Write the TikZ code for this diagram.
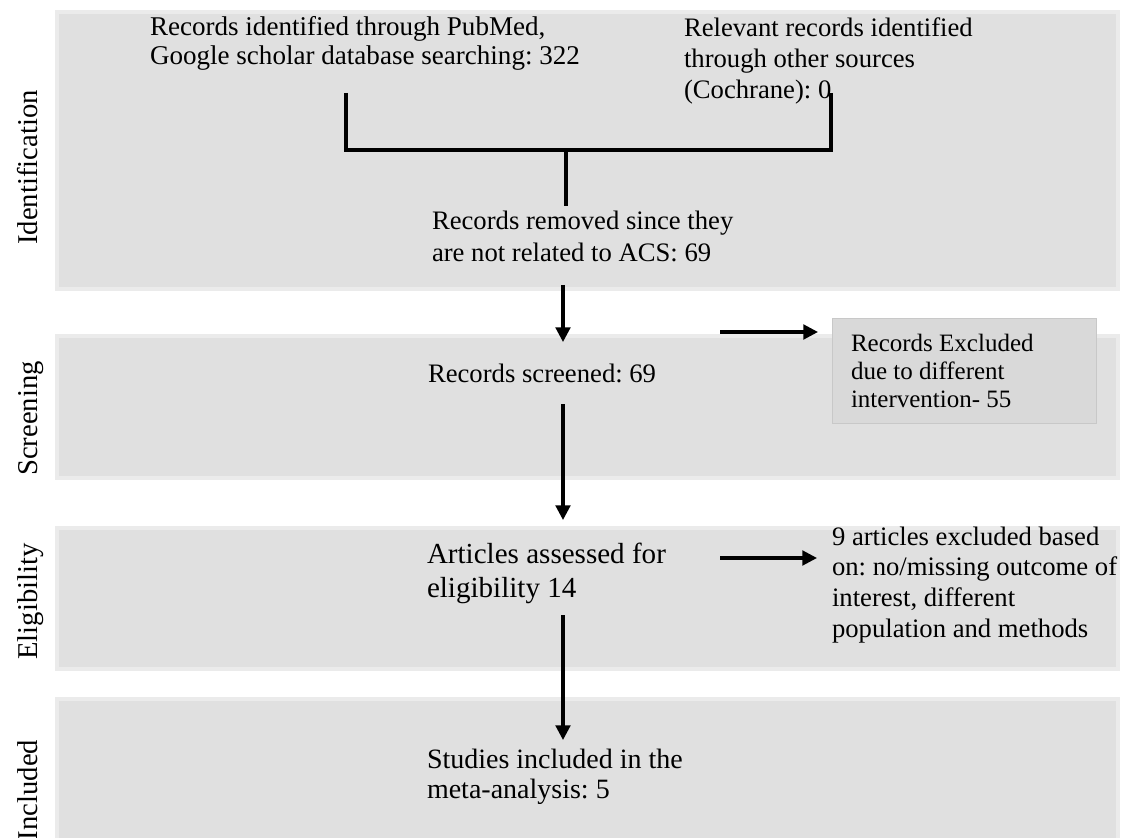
\documentclass[tikz,border=0pt]{standalone}
\usepackage{fontspec}
\setmainfont{Liberation Serif}
\usetikzlibrary{arrows.meta}
\frenchspacing
\definecolor{bandfill}{HTML}{E0E0E0}
\definecolor{bandedge}{HTML}{EBEBEB}
\definecolor{boxfill}{HTML}{D9D9D9}
\definecolor{boxedge}{HTML}{C8C8C8}
\newcommand{\txtlines}[1]{\begin{tabular}[t]{@{}l@{}}#1\end{tabular}}
\tikzset{
  band/.style={fill=bandfill, draw=bandedge, line width=2.5pt},
  txt/.style={anchor=base west, inner sep=0pt, outer sep=0pt},
  phase/.style={rotate=90, anchor=base, inner sep=0pt, font=\fontsize{21.5}{24}\selectfont},
  exbox/.style={fill=boxfill, draw=boxedge, line width=0.8pt, anchor=north west, inner sep=0pt,
                minimum width=198pt, minimum height=78.75pt},
  conn/.style={line width=2.3pt, line join=miter},
  arr/.style={conn, -{Triangle[length=11pt,width=11pt]}},
}
\begin{document}
\begin{tikzpicture}[x=0.75pt,y=-0.75pt]
\useasboundingbox (0,0) rectangle (1122,838);
% bands
\path[band] (57,12) rectangle (1118,289);
\path[band] (57,336) rectangle (1118,478);
\path[band] (57,528) rectangle (1118,669);
\path[band] (57,699) rectangle (1118,850);
% phase labels
\node[phase] (lid) at (37.5,167.5) {Identification};
\node[phase] (lsc) at (37.5,418.5) {Screening};
\node[phase] (lel) at (37.5,601.5) {Eligibility};
\node[phase] (lin) at (37.5,790) {Included};
% texts
\node[txt, font=\fontsize{20.3}{21.75}\selectfont] (src1) at (150,36)
  {\txtlines{Records identified through PubMed,\\Google scholar database searching: 322}};
\node[txt, font=\fontsize{20}{22.9}\selectfont] (src2) at (684,37)
  {\txtlines{Relevant records identified\\through other sources\\(Cochrane): 0}};
\node[txt, font=\fontsize{20}{24}\selectfont] (removed) at (432,230)
  {\txtlines{Records removed since they\\are not related to ACS: 69}};
\node[txt, font=\fontsize{20}{22.5}\selectfont] (screened) at (428,382)
  {Records screened: 69};
\node[exbox] (excl1) at (832,318) {};
\node[txt, font=\fontsize{18.75}{21}\selectfont] (excl1t) at (851,351)
  {\txtlines{Records Excluded\\due to different\\intervention- 55}};
\node[txt, font=\fontsize{21.8}{25.5}\selectfont] (assessed) at (427,563)
  {\txtlines{Articles assessed for\\eligibility 14}};
\node[txt, font=\fontsize{20}{23}\selectfont] (excl2) at (832,545)
  {\txtlines{9 articles excluded based\\on: no/missing outcome of\\interest, different\\population and methods}};
\node[txt, font=\fontsize{21}{22.5}\selectfont] (included) at (427,768)
  {\txtlines{Studies included in the\\meta-analysis: 5}};
% connector points
\coordinate (jl) at (346,93);
\coordinate (jr) at (831,93);
\coordinate (jm) at (566,150);
\coordinate (js) at (566,206);
\coordinate (a1s) at (563,285);
\coordinate (a1e) at (563,342);
\coordinate (a2s) at (563,404);
\coordinate (a2e) at (563,520);
\coordinate (a3s) at (563,615);
\coordinate (a3e) at (563,740);
\coordinate (h1s) at (720,332);
\coordinate (h1e) at (818,332);
\coordinate (h2s) at (720,558);
\coordinate (h2e) at (817,558);
% connectors
\draw[conn] (jl) |- (jm) -| (jr);
\draw[conn] (jm) -- (js);
\draw[arr] (a1s) -- (a1e);
\draw[arr] (a2s) -- (a2e);
\draw[arr] (a3s) -- (a3e);
\draw[arr] (h1s) -- (h1e);
\draw[arr] (h2s) -- (h2e);
\end{tikzpicture}
\end{document}
